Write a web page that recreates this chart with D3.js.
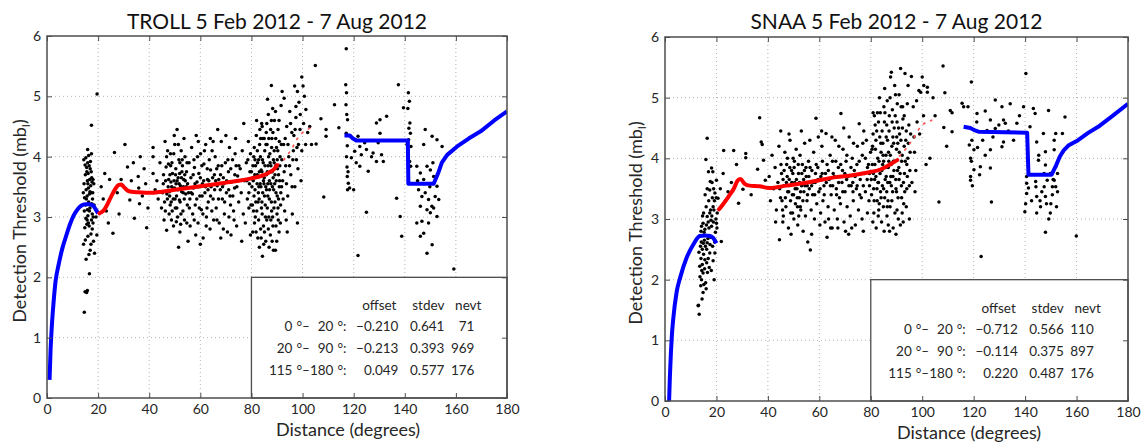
<!DOCTYPE html>
<html><head><meta charset="utf-8">
<script src="https://cdn.jsdelivr.net/npm/d3@7"></script>
<style>
body{margin:0;background:#fff;}
svg{display:block;font-family:Lato,"Open Sans",sans-serif;}
</style>
</head><body>
<svg id="chart" width="1145" height="443"></svg>
<script>
// ---------------- data ----------------
const xTicks = [0,20,40,60,80,100,120,140,160,180];
const yTicks = [0,1,2,3,4,5,6];
const titles = ["TROLL 5 Feb 2012 - 7 Aug 2012", "SNAA 5 Feb 2012 - 7 Aug 2012"];
const xLabel = "Distance (degrees)";
const yLabelMain = "Detection Threshold (mb";
const yLabelSub = "I";
const tableHeader = ["offset","stdev","nevt"];
const tableFrom = [0,20,115];
const tableTo   = [20,90,180];
const trollOffset = [-0.210,-0.213,0.049];
const trollStdev  = [0.641,0.393,0.577];
const trollNevt   = [71,969,176];
const snaaOffset  = [-0.712,-0.114,0.220];
const snaaStdev   = [0.566,0.375,0.487];
const snaaNevt    = [110,897,176];

// model curves (distance, threshold)
const trollBlueNear = [[1.0,0.3],[1.4,0.8],[1.9,1.2],[2.6,1.6],[3.4,1.95],[4.5,2.2],[6,2.48],[7.6,2.7],[9,2.88],[10.5,3.03],[12,3.13],[13.5,3.19],[15,3.21],[16.5,3.21],[18,3.19],[19,3.13],[20,3.06]];
const trollRed = [[20.5,3.06],[22,3.1],[23.5,3.2],[25,3.33],[26.5,3.45],[28,3.53],[29,3.54],[30,3.5],[31.5,3.44],[33,3.42],[36,3.41],[40,3.4],[45,3.42],[50,3.45],[55,3.48],[60,3.51],[65,3.54],[70,3.57],[75,3.6],[80,3.64],[84,3.68],[87,3.74],[89,3.8],[90,3.86]];
const trollRedDash = [[90,3.86],[92,3.92],[94,4.02],[96,4.15],[98,4.3],[100,4.4],[102,4.45],[104,4.5]];
const trollBlueFar = [[116.4,4.35],[118.5,4.35],[119.7,4.3],[121,4.27],[141.2,4.27],[141.4,3.55],[151.3,3.55],[153,3.72],[154.5,3.9],[156.6,4.03],[160.5,4.17],[165,4.3],[169.7,4.42],[175,4.6],[180,4.75]];

const snaaBlueNear = [[1.6,0],[1.9,0.4],[2.3,0.8],[2.7,1.1],[3.2,1.35],[4.5,1.79],[6,2.05],[8.4,2.36],[11,2.58],[13.5,2.72],[15.5,2.73],[17.5,2.72],[18.7,2.69],[20,2.6]];
const snaaRed = [[21,3.16],[22.5,3.24],[23.9,3.32],[25.2,3.4],[26.5,3.48],[28.4,3.64],[29.3,3.66],[31,3.58],[32.9,3.55],[36.8,3.54],[40.6,3.51],[47.1,3.55],[53.5,3.59],[60,3.64],[66.5,3.69],[72.9,3.72],[79.4,3.77],[84,3.82],[87.5,3.9],[90.3,3.97]];
const snaaRedDash = [[91,4.03],[93.5,4.15],[96.1,4.3],[99.4,4.52],[103.9,4.63]];
const snaaBlueFar = [[116.1,4.52],[118.7,4.5],[120.5,4.46],[121.9,4.44],[140.8,4.42],[141.3,3.73],[150.3,3.73],[152,3.88],[153.5,4.03],[155,4.13],[156.8,4.21],[160.6,4.3],[164.5,4.42],[168.4,4.52],[174,4.7],[180,4.9]];

// event detection thresholds (distance, mb)
const trollEventsA = [
[14.6,1.42],[14.9,1.76],[15.5,1.75],[15.8,1.78],[16.6,2.06],[14.3,2.55],[15.0,2.62],[16.0,2.68],[17.2,2.72],[14.8,2.82],[15.6,2.88],[16.5,2.85],[17.4,2.95],[15.2,2.98],[16.0,3.02],[17.7,3.05],[14.6,3.1],[15.8,3.12],[16.8,3.15],[18.1,3.0],[15.1,3.2],[16.3,3.25],[17.5,3.22],[14.7,3.32],[15.7,3.35],[16.6,3.38],[17.8,3.3],[15.3,3.45],[16.2,3.48],[17.1,3.52],[14.5,3.55],[15.8,3.6],[16.7,3.62],[17.6,3.58],[15.0,3.7],[16.1,3.72],[17.3,3.75],[15.5,3.82],[16.5,3.85],[17.0,3.92],[15.2,3.98],[16.3,4.02],[17.4,4.05],[15.9,4.12],[14.9,3.86],[17.9,3.4],[18.2,2.6],[16.9,2.45],[16.4,2.38],[15.3,2.3],[17.7,2.8],[18.3,3.55],[17.4,4.52],[19.6,5.04],[15.7,2.95],[16.8,3.42],[17.2,2.55],[18.0,2.9],[14.4,3.95],[18.4,3.2],[19.2,3.0],[19.5,2.7],[14.2,3.4],[18.6,2.4],
[21.2,3.5],[22.0,3.3],[22.6,3.72],[23.2,3.1],[24.5,3.62],[26.4,4.07],[25.8,2.73],[27.5,3.4],[29.0,3.62],[31.5,3.83],[32.4,3.28],[33.0,3.6],[35.7,3.67],[35.9,3.48],[36.5,4.0],[36.2,3.22],[38.0,3.8],[39.0,2.82],[38.6,3.55],[34.2,2.98],[37.3,3.35],[39.5,3.15],[30.5,4.2],[33.8,3.9],[24.0,2.9],[28.2,3.05],
[41.5,4.15],[41.5,4.0],[41.5,3.72],[42.3,3.45],[43.0,3.6],[43.5,3.3],[44.2,3.9],[44.8,3.15],[45.5,3.55],[45.8,2.95],[46.6,3.83],[46.2,4.25],[46.9,3.38],
[47.4,3.5],[47.8,3.05],[48.1,3.7],[48.3,4.05],[48.6,3.25],[48.9,3.9],[49.2,3.45],[49.5,2.85],[49.7,3.6],[50.0,4.2],[50.2,3.15],[50.4,3.8],[50.7,3.35],[50.9,4.45],[51.1,3.0],[51.3,3.65],[51.6,3.95],[51.8,3.28],[52.0,2.75],[52.2,3.52],[52.5,4.1],[52.7,3.42],[53.0,3.85],[53.2,3.1],[53.5,3.62],[53.8,2.95],[54.0,4.0],[54.3,3.38],[54.6,3.75],[54.9,3.2],[55.2,2.6],[48.0,3.35],[49.0,3.1],[50.5,3.55],[51.5,2.5],[52.8,3.75],[47.5,3.88],[53.6,4.3],[49.8,4.35],[46.8,2.78],[50.6,2.92],[52.3,2.88],[55.0,3.55],[48.5,3.58],[51.9,3.72],
[55.6,3.9],[55.9,3.3],[56.3,3.65],[56.6,4.15],[57.0,3.05],[57.3,3.48],[57.7,3.82],[58.0,3.2],[58.4,4.35],[58.7,3.58],[59.1,2.9],[59.4,3.72],[59.8,3.35],[60.1,4.05],[60.4,3.12],[60.8,3.55],[61.1,2.65],[61.4,3.88],[61.8,3.4],[62.1,4.2],[62.4,3.0],[62.8,3.62],[63.1,3.25],[63.5,3.95],[63.8,2.8],[64.2,3.5],[64.6,4.1],[65.0,3.3],[56.0,2.85],[58.2,2.7],[60.6,3.85],[62.6,3.15],[64.0,3.78],[59.2,4.25],[61.0,3.05],[57.5,3.95],[63.0,3.45],[65.2,2.95],[60.0,2.55],[56.9,3.38],
[65.5,3.7],[65.8,4.0],[66.2,3.15],[66.6,3.52],[67.0,3.85],[67.4,2.9],[67.8,3.45],[68.2,4.25],[68.6,3.3],[69.0,3.65],[69.4,3.05],[69.8,3.9],[70.2,3.4],[70.6,2.75],[71.0,3.75],[71.4,4.15],[71.8,3.2],[72.2,3.58],[72.6,3.95],[73.0,3.1],[73.4,3.48],[73.8,4.3],[74.2,2.85],[74.6,3.68],[75.0,3.25],[66.8,4.45],[68.0,2.65],[70.0,4.35],[72.0,2.7],[74.0,3.85],[69.2,3.55],[71.6,3.35],[67.2,3.62],[73.2,2.95],[65.0,4.25],
[75.6,3.8],[76.0,3.4],[76.4,4.1],[76.8,3.05],[77.2,3.6],[77.6,2.9],[78.0,3.9],[78.4,3.3],[78.8,4.25],[79.2,3.55],[79.6,2.7],[80.0,3.75],[77.0,4.55],[79.0,3.15],[76.2,2.6],
[80.4,3.2],[80.7,3.6],[80.9,4.0],[81.2,2.9],[81.4,3.45],[81.6,3.85],[81.9,4.35],[82.1,3.1],[82.3,3.7],[82.5,2.65],[82.8,3.95],[83.0,3.3],[83.2,4.2],[83.4,3.55],[83.6,2.8],[83.8,3.78],[84.0,4.55],[84.2,3.05],[84.4,3.4],[84.6,3.9],[84.8,2.55],[85.0,3.65],[85.2,4.1],[85.4,3.2],[85.6,3.5],[85.8,4.4],[86.0,2.95],[86.2,3.75],[86.4,3.35],[86.6,4.7],[86.8,3.0],[87.0,3.6],[87.2,4.05],[87.4,2.7],[87.6,3.85],[87.8,3.25],[88.0,4.3],[88.2,3.5],[88.4,2.85],[88.6,3.95],[88.8,3.15],[89.0,4.6],[89.2,3.7],[89.4,2.45],[89.6,3.4],[89.8,4.15],[90.0,3.05],[90.2,3.8],[90.4,4.45],[90.6,3.3],[90.8,2.75],[91.0,3.6],[91.2,4.0],[91.4,3.2],[91.6,4.85],[91.8,3.5],[81.0,3.35],[82.0,4.6],[83.1,2.5],[84.1,3.75],[85.1,2.75],[86.1,4.2],[87.1,3.45],[88.1,2.6],[89.1,3.55],[90.1,3.95],[80.5,2.75],[82.6,3.25],[84.5,4.3],[86.5,3.85],[88.5,3.65],[90.5,2.95],[85.5,3.0],[87.5,4.45],[89.5,3.85],[83.5,4.0],[81.5,3.0],[86.9,2.5],[88.9,4.1],[84.9,3.55],[82.9,3.5],[87.9,3.1],[89.9,2.6],[85.9,3.45],[83.9,3.15],[91.3,2.9],[90.9,4.25],[86.3,4.95],[84.3,2.35],[88.3,4.8],
[92.2,3.6],[92.6,4.2],[93.0,3.1],[93.4,3.85],[93.8,4.5],[94.2,3.35],[94.6,4.0],[95.0,4.75],[95.4,3.7],[95.8,4.4],[96.2,3.95],[96.6,4.35],[97.0,3.5],[97.4,4.65],[97.8,4.15],[98.2,3.8],[98.6,4.9],[99.0,4.45],[99.4,3.6],[102.0,4.4],[103.5,4.2],[98.0,2.9],[96.0,3.05],[94.0,2.75],[102.8,4.5],
[87.8,5.18],[92.0,5.08],[96.9,5.17],[99.7,5.32],[100.2,5.17],[100.7,5.0],[98.0,5.08],[92.8,4.97],[97.4,4.83],[101.3,4.78],
[105.0,5.51],[105.3,4.21],[109.2,4.34],[109.2,4.45],[107.2,4.63],[112.5,4.86],[114.2,4.48],[108.3,3.33],
[117.1,5.79],[116.9,5.19],[117.2,5.06],[117.0,4.86],[117.3,4.7],[117.6,4.61],[117.1,4.39],[117.5,4.18],[117.2,4.0],[117.4,3.83],[117.8,3.75],[117.5,3.67],[117.9,3.56],[117.6,3.45],[121.7,2.36],[125.0,3.08],[120.0,3.45],
[122.4,4.17],[123.0,4.03],[125.0,4.12],[127.0,4.0],[128.9,4.56],[130.3,4.61],[130.3,4.39],[130.9,4.03],[132.9,4.67],[128.9,3.92],[131.6,3.92],[124.3,4.23],[121.7,4.34],[119.1,3.98],[120.4,4.09],[121.0,3.9],[125.7,3.76],[127.6,4.06],[129.6,4.23],[122.4,3.84],[118.4,3.48],
[136.8,3.31],[138.8,2.68],[138.2,3.01],[137.5,5.19],[139.5,4.81],
[141.4,5.06],[141.8,4.92],[141.2,4.8],[142.0,4.56],[141.6,4.47],[142.2,4.39],[141.5,4.28],[142.4,4.17],[141.9,3.92],[142.3,3.84],[140.9,4.2],
[144.7,3.84],[146.1,3.73],[147.4,3.62],[148.7,3.84],[150.0,3.78],[151.3,3.67],[152.6,3.51],[145.4,3.45],[146.7,3.34],[148.0,3.4],[149.3,3.29],[150.6,3.18],[151.9,3.34],[146.1,3.18],[148.7,3.12],[150.0,3.07],[151.3,3.15],[153.3,3.29],[148.0,4.45],[152.6,4.28],[154.6,4.17],[150.7,4.34],[147.4,4.2],[148.7,2.4],[150.7,2.54],[159.2,2.14],[147.4,2.73],[146.1,2.68],[144.7,2.9],[149.3,2.9],[146.7,2.93],[152.6,3.01],[145.0,3.6],[149.8,3.5],[151.0,3.9]
];
const trollEventsB = [
[45.2,3.4],[45.6,3.7],[46.0,3.25],[46.4,3.6],[46.8,4.0],[47.1,3.3],[47.6,3.62],[47.9,3.42],[48.4,3.85],[48.8,3.5],[49.1,3.72],[49.4,3.3],[49.9,3.48],[50.3,3.7],[50.8,3.15],[51.2,3.45],[51.7,3.55],[52.1,3.25],[52.6,3.65],[52.9,3.95],[53.3,3.4],[53.7,3.3],[54.1,3.6],[54.5,3.5],[54.8,3.9],[55.4,3.4],[55.7,3.15],[46.3,3.1],[47.2,4.1],[48.7,2.95],[49.6,4.05],[50.9,3.6],[51.4,4.2],[52.4,3.05],[53.9,3.7],[54.7,2.9],[48.2,3.2],[50.1,3.3],[52.0,3.9],[53.4,3.5],
[56.4,3.4],[57.2,3.7],[57.9,3.55],[58.6,3.3],[59.3,3.5],[60.0,3.65],[60.7,3.35],[61.3,3.6],[62.0,3.5],[62.7,3.8],[63.3,3.6],[64.0,3.35],[64.8,3.65],[65.6,3.45],[66.4,3.8],[67.1,3.3],[67.9,3.7],[68.7,3.5],[69.5,3.25],[70.3,3.6],[71.1,3.45],[71.9,3.8],[72.7,3.35],[73.5,3.7],[74.3,3.5],[75.1,3.85],[66.0,3.6],[68.4,3.85],[70.8,3.95],[73.6,4.05],[58.9,4.0],[61.6,4.1],[63.9,4.3],[62.3,2.85],[64.5,3.1],[66.5,2.95],[69.0,2.8],[71.2,3.0],[57.6,2.95],[59.6,3.15],
[78.2,3.6],[78.6,3.95],[79.0,3.4],[79.4,3.75],[79.8,3.2],[80.2,3.5],[80.6,3.85],[81.1,4.15],[81.3,3.7],[81.7,3.25],[82.2,3.55],[82.4,3.9],[82.7,3.4],[83.1,3.75],[83.3,4.45],[83.7,3.5],[84.1,3.25],[84.3,3.95],[84.7,3.6],[85.1,3.35],[85.3,3.85],[85.7,4.2],[85.9,3.7],[86.2,3.15],[86.4,3.55],[86.7,4.0],[87.0,3.3],[87.3,3.9],[87.6,3.55],[87.9,4.15],[88.1,3.75],[88.3,3.0],[88.7,3.45],[88.9,3.9],[89.2,3.25],[89.5,4.3],[89.7,3.6],[90.1,3.35],[90.3,4.1],[90.6,3.7],[90.9,3.5],[91.1,3.85],[91.5,3.4],[91.7,4.2],[80.8,3.1],[81.8,2.75],[82.8,2.95],[83.8,2.65],[84.7,2.85],[85.6,2.6],[86.6,2.8],[87.6,2.95],[88.6,2.45],[89.6,2.85],[90.4,3.15],[82.3,4.1],[84.2,4.5],[86.0,4.55],[87.8,4.6],[89.4,4.75],[90.8,4.6],[85.0,4.3],[86.8,4.3],[88.4,4.4],[83.6,4.3],[81.4,3.95],[79.6,4.05],[91.9,3.95],[92.4,3.3],[92.8,3.75],
[93.2,4.3],[93.7,3.55],[94.3,4.2],[94.9,3.85],[95.3,4.55],[95.9,3.5],[96.4,4.1],[97.1,4.45],[97.6,3.95],[98.4,4.2],[99.1,4.7],[99.7,4.1],[100.4,4.55],[101.2,4.2],[93.6,2.95],
[15.4,3.3],[16.0,3.55],[16.6,3.1],[17.2,3.4],[15.6,3.75],[16.9,3.8],[16.2,2.9],[17.5,3.65],[15.9,3.9],[18.0,3.62]
];

const snaaEventsA = [
[16.4,4.33],[15.9,3.98],[18.1,3.84],[18.6,3.78],[20.0,3.64],[17.4,3.48],[19.4,3.43],[20.6,3.34],[18.7,3.2],[17.4,3.1],[16.4,3.04],[14.8,2.93],[14.2,2.88],[15.5,2.83],[18.1,2.88],[20.0,2.93],[13.5,2.72],[16.4,2.61],[14.5,2.5],[17.4,2.44],[15.5,2.33],[13.5,2.22],[14.8,2.11],[14.2,2.0],[13.9,1.9],[14.8,1.79],[12.9,1.57],[13.3,1.43],[19.1,2.0],[21.9,2.63],[18.7,2.31],[19.4,2.44],[13.0,1.58],[16.0,3.2],[17.0,3.3],[18.2,3.05],[19.0,3.15],[16.8,2.95],[15.3,2.65],[17.8,2.7],[16.2,2.5],[18.5,2.55],[15.0,2.42],[17.2,2.2],[14.0,2.35],[16.5,2.12],[15.8,1.95],[14.4,1.68],[16.0,1.85],[17.6,3.62],[19.8,3.0],[18.9,3.5],[16.9,3.78],[15.6,3.4],[14.6,3.05],[13.8,2.55],[20.3,3.1],[19.6,2.78],[18.4,3.35],[17.9,2.98],[15.2,2.78],[16.7,2.68],[14.1,2.62],[13.6,2.05],[15.4,2.18],[16.2,2.28],[17.5,2.58],[18.0,2.15],[19.3,2.62],[20.2,2.85],[15.1,1.92],[14.5,2.25],
[22.8,4.13],[26.7,4.13],[31.4,4.08],[31.4,4.01],[36.8,4.67],[37.4,4.27],[37.8,4.23],[38.3,3.97],[39.0,3.64],[28.6,3.26],[30.3,3.49],[33.5,3.4],[22.6,3.75],[24.5,3.45],[25.8,3.6],[34.8,3.55],[36.0,3.82],[27.8,3.9],[21.5,3.5],[23.5,3.3],
[40.5,3.7],[41.0,3.3],[41.6,4.05],[42.2,3.5],[42.8,3.85],[43.3,3.15],[43.9,3.6],[44.5,2.66],[44.3,4.2],[44.9,3.35],[45.3,3.75],[45.8,2.95],[46.2,3.55],[46.6,4.1],[47.0,3.2],[47.3,3.9],[47.7,3.45],[48.0,2.85],[48.3,3.65],[48.6,4.3],[48.9,3.1],[49.2,3.8],[49.5,3.4],[49.8,4.0],[50.1,3.0],[50.4,3.6],[50.7,3.25],[51.0,4.15],[51.3,3.5],[51.6,2.9],[51.9,3.75],[52.2,3.35],[52.5,4.05],[52.8,3.15],[53.1,3.55],[53.4,3.9],[53.7,2.8],[54.0,3.45],[54.3,4.25],[54.6,3.05],[54.9,3.7],[55.2,3.3],[55.5,2.62],[55.8,3.95],[56.1,3.5],[56.5,2.49],[56.8,3.15],[57.1,3.8],[57.4,3.4],[57.8,4.1],[58.1,3.0],[58.4,3.6],[58.7,4.66],[59.0,3.25],[59.4,3.85],[59.8,3.45],[60.2,2.9],[60.6,3.7],[61.0,4.2],[61.4,3.3],[61.8,3.55],[62.2,2.95],[62.6,4.41],[63.0,3.9],[63.4,3.2],[63.8,3.65],[64.2,4.05],[64.6,3.4],[65.0,2.85],[65.4,3.75],[65.8,3.15],[66.2,4.3],[66.6,3.5],[67.0,3.0],[67.4,3.85],[67.8,3.35],[68.4,4.74],[68.8,3.6],[69.2,4.15],[69.6,2.95],[70.0,3.45],[70.4,3.95],[70.8,3.2],[71.2,3.7],[71.6,4.35],[72.0,3.05],[72.4,3.55],[72.8,4.0],[73.2,3.3],[73.6,3.8],[74.0,2.9],[74.4,3.5],[74.8,4.2],[75.2,3.15],[75.5,4.57],[75.9,3.65],[76.3,3.35],[76.7,4.05],[77.1,2.8],[77.5,3.75],[77.9,3.45],[78.3,4.3],[78.7,3.1],[79.1,3.9],[79.5,3.55],[79.9,4.1],[46.0,3.05],[48.2,4.4],[50.2,3.85],[52.0,3.05],[54.2,3.8],[56.3,4.3],[58.5,3.75],[60.5,3.1],[62.4,3.75],[64.4,2.85],[66.4,3.95],[68.2,3.25],[70.6,3.65],[72.6,2.85],[74.6,3.9],[76.6,3.0],[78.6,3.65],[45.0,4.45],[49.0,2.75],[53.0,4.45],[57.0,2.75],[61.2,3.95],[65.2,3.55],[69.0,3.8],[73.0,3.6],[77.3,4.45],[43.0,2.95],[47.5,3.7],[51.5,3.2],[55.3,3.55],[59.6,4.35],[63.6,3.0],[67.6,4.2],[71.4,2.75],[75.7,3.4],[79.3,3.3],
[80.3,3.4],[80.6,3.9],[80.9,4.4],[81.2,3.1],[81.5,3.65],[81.8,4.15],[82.1,2.85],[82.4,3.5],[82.7,4.0],[83.0,4.6],[83.3,3.25],[83.6,3.75],[83.9,4.25],[84.2,2.95],[84.5,3.55],[84.8,4.05],[85.1,4.85],[85.4,3.35],[85.7,3.85],[86.0,4.35],[86.3,3.05],[86.6,3.6],[86.9,4.1],[87.2,4.7],[87.5,3.2],[87.8,3.7],[88.0,5.42],[88.2,4.2],[88.5,3.45],[88.8,3.95],[89.1,4.5],[89.4,3.1],[89.7,3.65],[90.0,4.15],[90.3,4.9],[90.6,3.35],[90.9,3.85],[91.2,4.4],[91.6,5.48],[91.9,3.55],[92.2,4.05],[92.5,4.65],[92.8,3.25],[93.1,3.75],[93.3,5.4],[93.6,4.3],[94.0,3.5],[94.4,4.0],[94.8,4.55],[95.2,3.8],[87.7,5.34],[80.8,2.95],[82.9,3.05],[84.9,3.2],[86.8,2.9],[88.7,2.85],[90.7,3.0],[92.6,2.95],[81.4,4.7],[83.4,5.0],[85.4,5.15],[86.4,4.95],[89.3,5.2],[91.0,5.05],[84.4,4.45],[86.2,4.55],[88.4,4.8],[90.2,4.6],[92.4,4.85],[81.0,3.75],[83.0,3.6],[85.0,3.5],[87.0,3.95],[89.0,3.8],[91.0,3.65],[93.0,4.2],[82.0,4.3],[84.0,4.1],[86.0,3.7],[88.0,3.55],[90.0,3.45],[92.0,3.35],[94.0,3.9],[82.5,3.3],[84.6,3.9],[86.7,3.3],[88.6,4.35],[90.5,4.25],[80.5,4.15],[95.5,4.4],[96.0,3.6],[96.5,4.85],[97.0,4.1],[97.5,3.8],[98.0,4.6],[98.7,5.12],[99.4,5.09],[100.0,5.34],[100.6,5.2],[102.0,5.17],[102.0,5.09],[96.8,4.35],[97.8,4.95],[99.0,4.4],[100.5,4.7],[101.5,3.9],[103.0,4.0],[94.5,5.2],[95.8,5.35],[93.8,3.2],[95.0,3.0],[97.2,3.45],[91.5,2.9],[89.8,2.75],[87.3,2.8],[85.2,2.8],[83.7,4.75],[81.7,4.55],
[108.1,5.52],[108.8,5.08],[106.5,3.28],[110.9,4.79],[111.6,4.75],[108.4,4.51],[111.6,4.44],[105.0,4.7],[104.2,5.0],[109.5,4.2],
[119.1,5.26],[140.3,5.4],[115.5,4.91],[116.1,4.85],[117.8,4.85],[121.3,4.74],[124.5,4.78],[126.5,4.63],[128.4,4.96],[131.0,4.85],[134.2,4.9],[131.6,4.63],[132.3,4.58],[136.8,4.58],[139.4,4.85],[143.2,4.82],[149.1,4.79],[155.5,4.68],[128.4,4.49],[125.2,4.46],[119.3,4.3],[120.1,4.14],[121.5,4.18],[118.8,4.0],[119.1,3.95],[120.1,3.81],[122.6,3.86],[122.3,3.73],[118.8,3.64],[118.8,3.7],[124.5,4.05],[126.5,4.14],[126.5,3.84],[131.6,4.27],[131.0,4.19],[126.9,3.28],[122.9,2.38],
[140.6,3.42],[140.2,3.25],[139.9,3.12],[144.5,3.37],[144.2,3.53],[146.0,3.2],[147.9,3.37],[149.8,3.1],[144.5,3.1],[145.2,3.97],[147.9,4.11],[151.3,4.3],[151.9,4.41],[154.5,4.41],[151.3,4.14],[147.9,3.89],[149.8,3.75],[151.3,3.64],[151.9,3.53],[152.6,3.45],[150.6,3.4],[147.4,3.53],[144.1,3.62],[148.6,3.64],[147.4,3.75],[151.9,3.86],[152.6,3.75],[150.6,3.53],[140.6,3.7],[140.6,3.59],[141.3,3.51],[147.9,2.78],[159.9,2.72],[144.5,4.27],[147.1,4.41],[141.9,4.52],[143.9,4.74],[145.8,3.3],[149.2,3.0],[150.0,3.25]
];
const snaaEventsB = [
[44.6,3.5],[45.1,3.9],[45.5,3.3],[45.9,3.65],[46.3,3.8],[46.8,3.35],[47.2,3.6],[47.6,4.0],[48.1,3.45],[48.5,3.85],[48.8,3.3],[49.3,3.6],[49.7,3.75],[50.0,3.4],[50.3,3.95],[50.6,3.5],[51.1,3.65],[51.4,3.35],[51.8,3.9],[52.3,3.6],[52.7,3.45],[53.2,3.75],[53.6,3.3],[53.9,3.65],[54.4,3.55],[54.8,3.85],[55.4,3.4],[55.9,3.7],[56.4,3.85],[57.0,3.55],[57.6,3.6],[58.2,3.4],[45.7,3.15],[49.6,3.1],[52.6,3.2],
[58.8,3.9],[59.5,3.65],[60.3,3.5],[61.1,3.75],[61.9,3.4],[62.7,3.6],[63.5,3.8],[64.3,3.55],[65.1,3.95],[65.9,3.7],[66.7,3.4],[67.5,3.6],[68.3,3.9],[69.1,3.45],[69.9,3.75],[70.7,4.05],[71.5,3.55],[72.3,3.85],[73.1,3.45],[73.9,3.7],[74.7,3.55],[75.5,3.95],[76.3,3.75],[77.1,3.55],[77.9,4.0],[78.7,3.85],[79.5,3.75],[60.9,4.45],[64.9,4.35],[69.5,4.5],[73.3,4.25],[76.9,4.25],[63.0,2.7],[67.2,2.85],[70.2,2.8],
[80.2,3.65],[80.7,4.2],[81.1,3.5],[81.6,3.9],[82.0,3.7],[82.3,4.45],[82.8,3.6],[83.2,3.95],[83.5,4.35],[83.8,3.45],[84.3,3.8],[84.7,4.25],[85.0,3.95],[85.3,4.6],[85.6,3.65],[85.9,4.05],[86.2,3.45],[86.5,4.3],[86.8,3.85],[87.1,4.45],[87.4,3.6],[87.6,4.05],[87.9,3.9],[88.3,4.6],[88.6,3.7],[88.9,4.25],[89.2,3.95],[89.5,4.7],[89.8,3.5],[90.1,4.35],[90.4,3.8],[90.8,4.5],[91.1,4.1],[91.4,3.75],[91.7,4.3],[92.0,3.95],[92.3,4.5],[92.7,3.6],[93.0,4.7],[93.4,3.95],[93.8,4.45],[94.2,3.7],[94.6,4.25],[95.0,3.55],[84.0,3.35],[86.4,3.2],[88.2,3.3],[90.2,3.15],[92.2,3.1],[85.5,4.75],[87.5,5.0],[89.6,5.05],[91.8,4.85],[83.1,3.15],[81.3,3.3],[94.2,4.9],[93.2,3.45],[95.3,4.1],[80.9,4.75],[82.6,4.75],
[14.0,2.8],[15.0,3.1],[16.1,2.9],[17.1,2.85],[18.3,3.6],[19.2,3.3],[15.7,2.55],[16.8,2.35],[14.9,2.6],[17.7,3.15],[18.8,2.95],[13.2,2.45],[14.3,2.15],[16.4,3.5],[19.9,3.35],
[118.3,4.22],[119.5,3.55],[121.2,4.6],[123.5,4.3],[127.5,4.35],[129.8,4.55],[133.5,4.45],[135.5,4.3],[137.8,4.7],[142.5,3.3],[146.5,3.45],[148.3,3.25],[150.9,3.65],[152.2,3.2],[145.3,4.05]
];
const trollEvents = trollEventsA.concat(trollEventsB);
const snaaEvents = snaaEventsA.concat(snaaEventsB);

// ---------------- drawing ----------------
const svg = d3.select("#chart");
const panels = [
  {x0:47, x1:507, yT:36, yB:398, title:titles[0], events:trollEvents, blueNear:trollBlueNear, red:trollRed, redDash:trollRedDash, blueFar:trollBlueFar,
   offs:trollOffset, sd:trollStdev, nev:trollNevt, xlabCx:348, xlabY:436, ylabX:26},
  {x0:665, x1:1128, yT:37, yB:401, title:titles[1], events:snaaEvents, blueNear:snaaBlueNear, red:snaaRed, redDash:snaaRedDash, blueFar:snaaBlueFar,
   offs:snaaOffset, sd:snaaStdev, nev:snaaNevt, xlabCx:969, xlabY:439, ylabX:642}
];
const fmt3 = d3.format(".3f");
const frameColor = "#4d4d4d";
const textColor = "#262626";

panels.forEach((p,i) => {
  const x = d3.scaleLinear().domain([0,180]).range([p.x0,p.x1]);
  const y = d3.scaleLinear().domain([0,6]).range([p.yB,p.yT]);
  const g = svg.append("g");
  const clipId = "clip"+i;
  svg.append("clipPath").attr("id",clipId).append("rect")
     .attr("x",p.x0).attr("y",p.yT).attr("width",p.x1-p.x0).attr("height",p.yB-p.yT);

  // grid
  const grid = g.append("g").attr("stroke","#b3b3b3").attr("stroke-width",1).attr("stroke-dasharray","1,3");
  grid.selectAll(".gx").data(xTicks.slice(1,-1)).join("line")
    .attr("x1",d=>x(d)).attr("x2",d=>x(d)).attr("y1",p.yT).attr("y2",p.yB);
  grid.selectAll(".gy").data(yTicks.slice(1,-1)).join("line")
    .attr("y1",d=>y(d)).attr("y2",d=>y(d)).attr("x1",p.x0).attr("x2",p.x1);

  const plot = g.append("g").attr("clip-path",`url(#${clipId})`);
  // points
  plot.append("g").selectAll("circle").data(p.events).join("circle")
    .attr("cx",d=>x(d[0])).attr("cy",d=>y(d[1])).attr("r",1.75).attr("fill","#000");

  const line = d3.line().x(d=>x(d[0])).y(d=>y(d[1])).curve(d3.curveLinear);
  const smooth = d3.line().x(d=>x(d[0])).y(d=>y(d[1])).curve(d3.curveMonotoneX);
  plot.append("path").datum(p.redDash).attr("d",smooth).attr("fill","none")
    .attr("stroke","#ff5050").attr("stroke-width",1.6).attr("stroke-dasharray","3,5");
  plot.append("path").datum(p.blueNear).attr("d",smooth).attr("fill","none")
    .attr("stroke","#0000ff").attr("stroke-width",4).attr("stroke-linejoin","round");
  plot.append("path").datum(p.red).attr("d",smooth).attr("fill","none")
    .attr("stroke","#ff0000").attr("stroke-width",4).attr("stroke-linejoin","round").attr("stroke-linecap","round");
  plot.append("path").datum(p.blueFar).attr("d",line).attr("fill","none")
    .attr("stroke","#0000ff").attr("stroke-width",4).attr("stroke-linejoin","round");

  // table box
  const bx = x(80), by = y(2), bw = p.x1 - x(80), bh = p.yB - y(2);
  g.append("rect").attr("x",bx).attr("y",by).attr("width",bw).attr("height",bh)
    .attr("fill","#fff").attr("stroke",frameColor).attr("stroke-width",1.3);
  const tg = g.append("g").attr("font-size",13.5).attr("fill",textColor);
  const hy = by+33;
  tg.append("text").attr("x",bx+145).attr("y",hy).attr("text-anchor","end").text(tableHeader[0]);
  tg.append("text").attr("x",bx+193).attr("y",hy).attr("text-anchor","end").text(tableHeader[1]);
  tg.append("text").attr("x",bx+230).attr("y",hy).attr("text-anchor","end").text(tableHeader[2]);
  tableFrom.forEach((f,k)=>{
    const ry = by + 54 + k*22;
    tg.append("text").attr("x",bx+41).attr("y",ry).attr("text-anchor","end").text(f);
    tg.append("text").attr("x",bx+45).attr("y",ry).text("°–");
    tg.append("text").attr("x",bx+82).attr("y",ry).attr("text-anchor","end").text(tableTo[k]);
    tg.append("text").attr("x",bx+86).attr("y",ry).text("°:");
    tg.append("text").attr("x",bx+147).attr("y",ry).attr("text-anchor","end").text(fmt3(p.offs[k]));
    tg.append("text").attr("x",bx+193).attr("y",ry).attr("text-anchor","end").text(fmt3(p.sd[k]));
    tg.append("text").attr("x",bx+223).attr("y",ry).attr("text-anchor","end").text(p.nev[k]);
  });

  // axes (ticks inward, all four sides)
  const ax = g.append("g");
  const bottom = ax.append("g").attr("transform",`translate(0,${p.yB})`)
    .call(d3.axisBottom(x).tickValues(xTicks).tickSize(-5).tickPadding(6).tickFormat(d3.format("d")));
  const top = ax.append("g").attr("transform",`translate(0,${p.yT})`)
    .call(d3.axisTop(x).tickValues(xTicks).tickSize(-5).tickFormat(""));
  const left = ax.append("g").attr("transform",`translate(${p.x0},0)`)
    .call(d3.axisLeft(y).tickValues(yTicks).tickSize(-5).tickPadding(6).tickFormat(d3.format("d")));
  const right = ax.append("g").attr("transform",`translate(${p.x1},0)`)
    .call(d3.axisRight(y).tickValues(yTicks).tickSize(-5).tickFormat(""));
  [bottom,top,left,right].forEach(a=>{
    a.select(".domain").remove();
    a.selectAll("line").attr("stroke",frameColor).attr("stroke-width",1);
    a.selectAll("text").attr("font-size",14).attr("fill",textColor).attr("font-family","Lato, sans-serif");
  });
  // frame
  g.append("rect").attr("x",p.x0).attr("y",p.yT).attr("width",p.x1-p.x0).attr("height",p.yB-p.yT)
    .attr("fill","none").attr("stroke",frameColor).attr("stroke-width",1.5);

  // title and labels
  g.append("text").attr("x",(p.x0+p.x1)/2).attr("y",29).attr("text-anchor","middle")
    .attr("font-size",21).attr("fill","#111").text(p.title);
  g.append("text").attr("x",p.xlabCx).attr("y",p.xlabY).attr("text-anchor","middle")
    .attr("font-size",18).attr("fill",textColor).text(xLabel);
  const cy = (p.yT+p.yB)/2 + 4;
  const yl = g.append("text").attr("transform",`translate(${p.ylabX},${cy}) rotate(-90)`)
    .attr("text-anchor","middle").attr("font-size",18).attr("fill",textColor);
  yl.append("tspan").text(yLabelMain);
  yl.append("tspan").attr("font-size",11).attr("dy",4).text(yLabelSub);
  yl.append("tspan").attr("dy",-4).text(")");
});
</script>
</body></html>
